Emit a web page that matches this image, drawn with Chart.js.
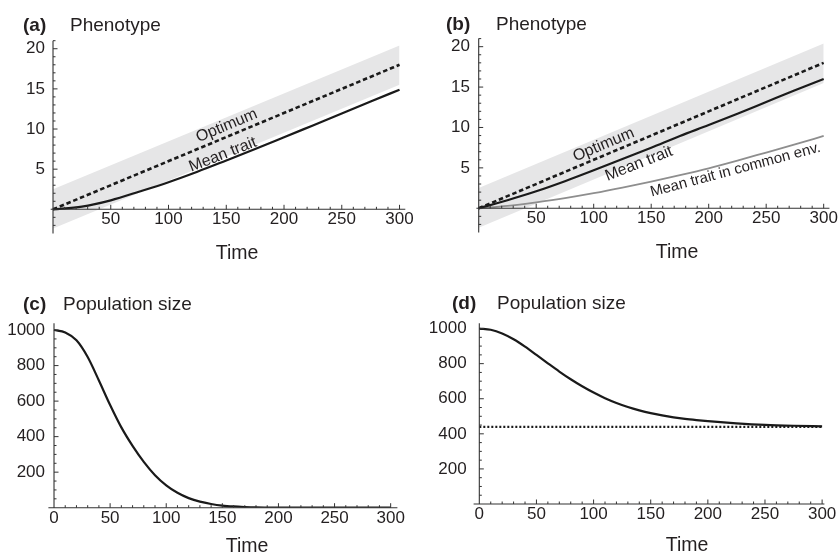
<!DOCTYPE html>
<html lang="en">
<head>
<meta charset="UTF-8">
<script src="https://cdn.jsdelivr.net/npm/chart.js@4.4.1/dist/chart.umd.min.js"></script>
<title>Phenotype and population size</title>
<style>
  body { margin: 0; background: #fff; }
  #wrap { position: relative; width: 838px; height: 558px; }
  .panel { position: absolute; width: 419px; height: 279px; }
</style>
</head>
<body>
<div id="wrap">
  <div class="panel" style="left:0;top:0"><canvas id="chartA" width="419" height="279"></canvas></div>
  <div class="panel" style="left:419px;top:0"><canvas id="chartB" width="419" height="279"></canvas></div>
  <div class="panel" style="left:0;top:279px"><canvas id="chartC" width="419" height="279"></canvas></div>
  <div class="panel" style="left:419px;top:279px"><canvas id="chartD" width="419" height="279"></canvas></div>
</div>
<script>
// ---- data ----
// phenotype panels (a) and (b)
const timeTrait = [0, 25, 50, 75, 100, 125, 150, 175, 200, 225, 250, 275, 300];
const meanTraitA = [0, 0.33, 1.12, 2.22, 3.38, 4.68, 6.08, 7.5, 8.97, 10.45, 11.93, 13.42, 14.9];
const meanTraitB = [0, 1.0, 2.1, 3.35, 4.7, 6.1, 7.5, 8.95, 10.3, 11.7, 13.15, 14.6, 16.0];
const commonEnvB = [0, 0.3, 0.74, 1.25, 1.86, 2.55, 3.3, 4.1, 4.95, 5.9, 6.9, 7.9, 8.95];

// optimum and its grey tolerance band
const timeOptimum = [0, 300];
const optimum = [0, 18];
const bandTop = [2.5, 20.4];
const bandBottom = [-2.4, 15.5];

// population panels (c) and (d)
const timePopC = [0, 10, 20, 30, 40, 50, 60, 70, 80, 90, 100, 110, 120, 130, 140, 150, 160, 170, 180, 200, 225, 250, 300];
const popC = [1000, 986, 942, 848, 716, 578, 452, 348, 258, 183, 126, 84, 54, 34, 21, 12, 7, 4, 2, 0.6, 0.1, 0, 0];
const timePopD = [0, 10, 20, 30, 40, 50, 60, 70, 80, 90, 100, 110, 120, 130, 140, 150, 160, 170, 180, 190, 200, 225, 250, 275, 300];
const popD = [1000, 993, 972, 939, 897, 850, 802, 755, 711, 671, 635, 603, 576, 553, 534, 518, 505, 494, 485, 478, 472, 460, 451, 446, 443];
const timeEq = [0, 300];
const equilibriumD = [440, 440];

// tick labels
const traitXTicks = [50, 100, 150, 200, 250, 300];
const traitYTicks = [5, 10, 15, 20];
const popXTicks = [0, 50, 100, 150, 200, 250, 300];
const popYTicks = [200, 400, 600, 800, 1000];

const FONT = '"Liberation Sans", Arial, Helvetica, sans-serif';
const INK = '#231f20';

function pts(xs, ys) {
    return xs.map((x, i) => ({ x: x, y: ys[i] }));
}

function steps(from, to, step) {
    const out = [];
    for (let v = from; v <= to + 1e-9; v += step) out.push(v);
    return out;
}

// axes crossing at the origin with major and minor ticks pointing inwards
const crossAxes = {
    id: 'crossAxes',
    afterDatasetsDraw(chart, args, o) {
        const { ctx, chartArea: area, scales: { x, y } } = chart;
        const x0 = x.getPixelForValue(0);
        const y0 = y.getPixelForValue(0);
        ctx.save();
        ctx.strokeStyle = '#333';
        ctx.lineWidth = 1.1;
        ctx.beginPath();
        ctx.moveTo(area.left, y0);
        ctx.lineTo(area.right, y0);
        ctx.moveTo(x0, area.top);
        ctx.lineTo(x0, area.bottom);
        ctx.stroke();
        ctx.lineWidth = 1;
        ctx.beginPath();
        o.xMinor.forEach(v => {
            const px = x.getPixelForValue(v);
            const len = o.xMajor.includes(v) ? 4.5 : 2.5;
            ctx.moveTo(px, y0);
            ctx.lineTo(px, y0 - len);
        });
        o.yMinor.forEach(v => {
            const py = y.getPixelForValue(v);
            const len = o.yMajor.includes(v) ? 4.5 : 2.5;
            ctx.moveTo(x0, py);
            ctx.lineTo(x0 + len, py);
        });
        ctx.stroke();
        ctx.restore();
    }
};

// panel letter, panel title, axis title and the labels along the curves
const panelText = {
    id: 'panelText',
    afterDraw(chart, args, o) {
        const { ctx, scales: { x, y } } = chart;
        ctx.save();
        ctx.fillStyle = INK;
        ctx.textBaseline = 'alphabetic';
        ctx.textAlign = 'left';
        ctx.font = 'bold 19px ' + FONT;
        ctx.fillText(o.letter, o.letterX, o.titleY);
        ctx.font = '19px ' + FONT;
        ctx.fillText(o.title, o.titleX, o.titleY);
        ctx.textAlign = 'center';
        ctx.font = '19.5px ' + FONT;
        ctx.fillText('Time', o.timeX, o.timeY);

        ctx.textBaseline = 'middle';
        (o.notes || []).forEach(n => {
            // angle of the curve near the label, measured in pixels
            let i = n.along.t.findIndex(t => t >= n.x);
            if (i < 1) i = 1;
            const dx = x.getPixelForValue(n.along.t[i]) - x.getPixelForValue(n.along.t[i - 1]);
            const dy = y.getPixelForValue(n.along.v[i]) - y.getPixelForValue(n.along.v[i - 1]);
            ctx.save();
            ctx.font = (n.size || 16) + 'px ' + FONT;
            ctx.translate(x.getPixelForValue(n.x), y.getPixelForValue(n.y));
            ctx.rotate(Math.atan2(dy, dx));
            ctx.fillText(n.text, 0, 0);
            ctx.restore();
        });
        ctx.restore();
    }
};

function makeChart(id, cfg) {
    const lines = cfg.lines.map(l => ({
        data: l.data,
        borderColor: l.color || '#1a1a1a',
        borderWidth: l.width || 2.2,
        borderDash: l.dash || [],
        pointRadius: 0,
        fill: false,
        cubicInterpolationMode: 'monotone'
    }));
    if (cfg.band) {
        lines.push({ data: cfg.band[0], borderWidth: 0, pointRadius: 0, fill: false });
        lines.push({ data: cfg.band[1], borderWidth: 0, pointRadius: 0, fill: '-1', backgroundColor: '#e6e6e7' });
    }
    return new Chart(document.getElementById(id), {
        type: 'line',
        data: { datasets: lines },
        options: {
            responsive: false,
            animation: false,
            layout: { padding: cfg.padding },
            scales: {
                x: {
                    type: 'linear',
                    min: cfg.xRange[0], max: cfg.xRange[1],
                    position: { y: 0 },
                    grid: { display: false, drawTicks: false },
                    border: { display: false },
                    afterBuildTicks: axis => { axis.ticks = cfg.xTicks.map(v => ({ value: v })); },
                    ticks: { color: INK, font: { family: FONT, size: 17 }, padding: 0, maxRotation: 0,
                             callback: v => String(v) }
                },
                y: {
                    type: 'linear',
                    min: cfg.yRange[0], max: cfg.yRange[1],
                    position: 'left',
                    grid: { display: false, drawTicks: false },
                    border: { display: false },
                    afterBuildTicks: axis => { axis.ticks = cfg.yTicks.map(v => ({ value: v })); },
                    afterFit: axis => { axis.width = cfg.left; },
                    ticks: { color: INK, font: { family: FONT, size: 17 }, padding: cfg.yLabelGap,
                             callback: v => String(v) }
                }
            },
            plugins: {
                legend: { display: false },
                tooltip: { enabled: false },
                filler: { drawTime: 'beforeDatasetsDraw' },
                crossAxes: cfg.axes,
                panelText: cfg.text
            }
        },
        plugins: [crossAxes, panelText]
    });
}

const traitAxes = {
    xMajor: traitXTicks, xMinor: steps(10, 300, 10),
    yMajor: traitYTicks, yMinor: steps(-2, 21, 1)
};
const popAxes = {
    xMajor: popXTicks, xMinor: steps(10, 300, 10),
    yMajor: popYTicks, yMinor: steps(50, 1000, 50)
};

makeChart('chartA', {
    lines: [
        { data: pts(timeTrait, meanTraitA) },
        { data: pts(timeOptimum, optimum), dash: [4.5, 2.8], width: 2.6 }
    ],
    band: [pts(timeOptimum, bandBottom), pts(timeOptimum, bandTop)],
    xRange: [-2, 305], yRange: [-3, 21],
    xTicks: traitXTicks, yTicks: traitYTicks,
    left: 50.7, yLabelGap: 5.7,
    padding: { left: 0, right: 13.7, top: 40.7, bottom: 45.6 },
    axes: traitAxes,
    text: {
        letter: '(a)', letterX: 23, title: 'Phenotype', titleX: 70, titleY: 31,
        timeX: 237, timeY: 259,
        notes: [
            { text: 'Optimum', x: 150.4, y: 10.4, along: { t: timeOptimum, v: optimum } },
            { text: 'Mean trait', x: 147, y: 6.8, along: { t: timeTrait, v: meanTraitA } }
        ]
    }
});

makeChart('chartB', {
    lines: [
        { data: pts(timeTrait, meanTraitB) },
        { data: pts(timeTrait, commonEnvB), color: '#8e8e8e', width: 1.8 },
        { data: pts(timeOptimum, optimum), dash: [4.5, 2.8], width: 2.6 }
    ],
    band: [pts(timeOptimum, bandBottom), pts(timeOptimum, bandTop)],
    xRange: [-2, 305], yRange: [-3, 21],
    xTicks: traitXTicks, yTicks: traitYTicks,
    left: 57.4, yLabelGap: 6.4,
    padding: { left: 0, right: 8.2, top: 38.6, bottom: 46.5 },
    axes: traitAxes,
    text: {
        letter: '(b)', letterX: 27, title: 'Phenotype', titleX: 77, titleY: 30,
        timeX: 258, timeY: 258,
        notes: [
            { text: 'Optimum', x: 108.6, y: 7.85, along: { t: timeOptimum, v: optimum } },
            { text: 'Mean trait', x: 139.3, y: 5.5, along: { t: timeTrait, v: meanTraitB } },
            { text: 'Mean trait in common env.', x: 223.3, y: 4.74, size: 15, along: { t: timeTrait, v: commonEnvB } }
        ]
    }
});

makeChart('chartC', {
    lines: [
        { data: pts(timePopC, popC) }
    ],
    xRange: [-5, 306], yRange: [0, 1038],
    xTicks: popXTicks, yTicks: popYTicks,
    left: 48.4, yLabelGap: 3.4,
    padding: { left: 0, right: 21.6, top: 44.3, bottom: 50.3 },
    axes: popAxes,
    text: {
        letter: '(c)', letterX: 23, title: 'Population size', titleX: 63, titleY: 31,
        timeX: 247, timeY: 273
    }
});

makeChart('chartD', {
    lines: [
        { data: pts(timePopD, popD) },
        { data: pts(timeEq, equilibriumD), dash: [2, 2], width: 2.2 }
    ],
    xRange: [-5, 302], yRange: [0, 1030],
    xTicks: popXTicks, yTicks: popYTicks,
    left: 54.6, yLabelGap: 7,
    padding: { left: 0, right: 13.6, top: 44.3, bottom: 54 },
    axes: popAxes,
    text: {
        letter: '(d)', letterX: 33, title: 'Population size', titleX: 78, titleY: 30,
        timeX: 268, timeY: 272
    }
});
</script>
</body>
</html>
